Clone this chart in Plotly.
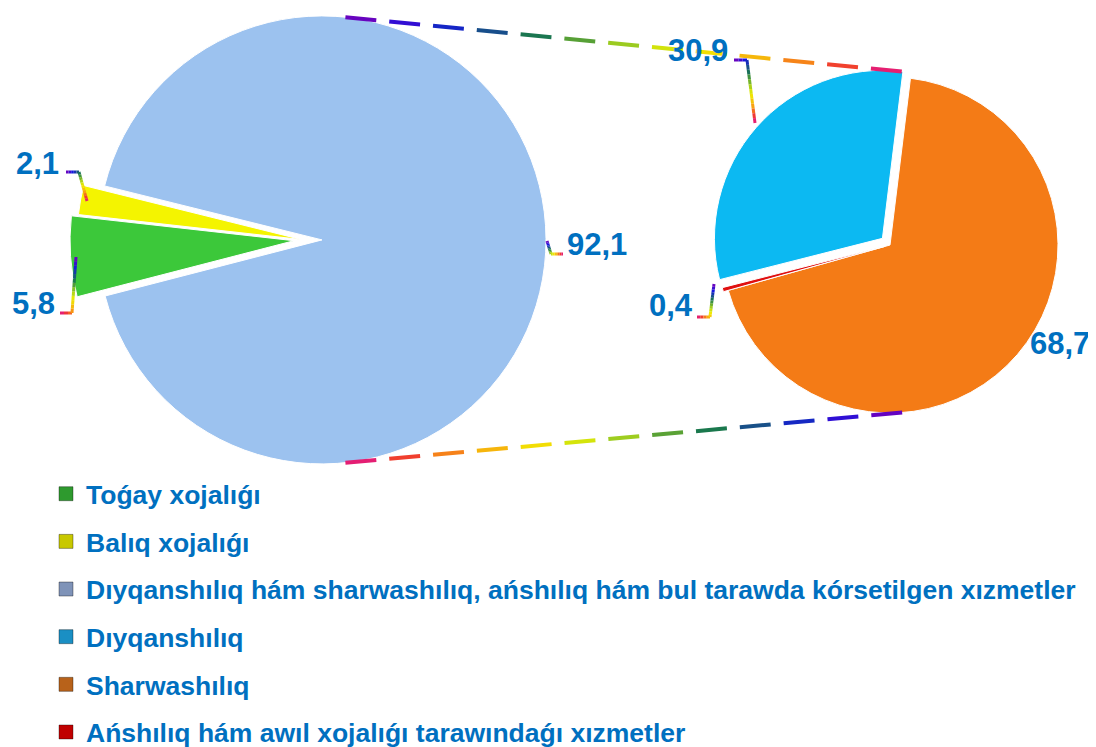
import math
import plotly.graph_objects as go

# page is 1096x747; the html body keeps an 8px margin, so the figure is 8px smaller
PAGE_W, PAGE_H, OFF = 1096, 747, 8
W, H = PAGE_W - OFF, PAGE_H - OFF

# ---------------- data ----------------
main_labels = ["Toǵay xojalıǵı", "Balıq xojalıǵı",
               "Dıyqanshılıq hám sharwashılıq, ańshılıq hám bul tarawda kórsetilgen xızmetler"]
main_values = [5.8, 2.1, 92.1]
main_colors = ["#3CC83A", "#F4F400", "#9CC2EF"]

sub_labels = ["Sharwashılıq", "Ańshılıq hám awıl xojalıǵı tarawındaǵı xızmetler", "Dıyqanshılıq"]
sub_values = [68.7, 0.4, 30.9]
sub_colors = ["#F47B16", "#E01010", "#0CB9F2"]

legend_labels = ["Toǵay xojalıǵı", "Balıq xojalıǵı",
                 "Dıyqanshılıq hám sharwashılıq, ańshılıq hám bul tarawda kórsetilgen xızmetler",
                 "Dıyqanshılıq", "Sharwashılıq",
                 "Ańshılıq hám awıl xojalıǵı tarawındaǵı xızmetler"]
legend_colors = ["#2E9A2E", "#C8C800", "#7F93B8", "#1A8FC4", "#B8621A", "#C00000"]

TEXT_BLUE = "#0070C0"
FONT = "Liberation Sans, Arial, sans-serif"

# ---------------- geometry (page pixels) ----------------
L_C, L_R = (304.0, 240.0), 224.0
L_OFFSET = [10.0, 3.0, 18.0]      # explosion distance of each slice (px)
L_ROT = 255.5                     # clockwise from 12 o'clock
R_C, R_R = (890.0, 245.0), 168.0
R_PULL = [0.0, 0.03, 0.06]
R_ROT = 7


def px2paper_x(px):
    return (px - OFF) / W


def px2paper_y(py):
    return 1 - (py - OFF) / H


def domain(c, half):
    return dict(x=[px2paper_x(c[0] - half), px2paper_x(c[0] + half)],
                y=[px2paper_y(c[1] + half), px2paper_y(c[1] - half)])


def pol(c, r, ang):
    return (c[0] + r * math.cos(math.radians(ang)), c[1] - r * math.sin(math.radians(ang)))


fig = go.Figure()

# main pie: one trace per exploded slice (others transparent), sharing one angle layout
tot = sum(main_values)
start = 90 - L_ROT
acc = 0.0
mids = []
for v in main_values:
    span = 360 * v / tot
    mids.append(start - acc - span / 2)   # clockwise
    acc += span

for k in [2, 0, 1]:
    cen = pol(L_C, L_OFFSET[k], mids[k])
    cols = [main_colors[i] if i == k else "rgba(0,0,0,0)" for i in range(len(main_values))]
    widths = [1 if i == k else 0 for i in range(len(main_values))]
    fig.add_trace(go.Pie(
        labels=main_labels, values=main_values, sort=False,
        direction="clockwise", rotation=L_ROT,
        marker=dict(colors=cols, line=dict(color="white", width=widths)),
        textinfo="none", hoverinfo="skip", showlegend=False,
        domain=domain(cen, L_R)))

fig.add_trace(go.Pie(
    labels=sub_labels, values=sub_values, sort=False,
    direction="clockwise", rotation=R_ROT, pull=R_PULL,
    marker=dict(colors=sub_colors, line=dict(color="white", width=1)),
    textinfo="none", hoverinfo="label+value", showlegend=False,
    domain=domain(R_C, R_R * (1 + max(R_PULL)))))

# legend entries
for lab, col in zip(legend_labels, legend_colors):
    fig.add_trace(go.Scatter(
        x=[None], y=[None], mode="markers", name=lab, legendgroup=lab,
        marker=dict(symbol="square", size=14, color=col,
                    line=dict(color="rgba(0,0,0,0.35)", width=1))))

# ---------------- rainbow helpers ----------------
RAINBOW = [(0.0, (122, 0, 184)), (0.15, (20, 20, 224)), (0.35, (26, 122, 74)),
           (0.5, (156, 204, 32)), (0.62, (240, 240, 0)), (0.78, (248, 160, 16)),
           (0.9, (240, 58, 48)), (1.0, (224, 20, 140))]


def rainbow(t):
    t = max(0.0, min(1.0, t))
    for (t0, c0), (t1, c1) in zip(RAINBOW[:-1], RAINBOW[1:]):
        if t <= t1:
            f = (t - t0) / (t1 - t0) if t1 > t0 else 0
            return "rgb(%d,%d,%d)" % tuple(round(a + (b - a) * f) for a, b in zip(c0, c1))
    return "rgb(%d,%d,%d)" % RAINBOW[-1][1]


shapes = []


def seg(x0, y0, x1, y1, color, width):
    shapes.append(dict(type="line", xref="x", yref="y", x0=x0, y0=y0, x1=x1, y1=y1,
                       line=dict(color=color, width=width), layer="above"))


def dashed_rainbow(p0, p1, reverse=False, dash=31, gap=13, width=4):
    L = math.hypot(p1[0] - p0[0], p1[1] - p0[1])
    ux, uy = (p1[0] - p0[0]) / L, (p1[1] - p0[1]) / L
    s = 0.0
    while s < L:
        e = min(s + dash, L)
        t = (s + e) / 2 / L
        seg(p0[0] + ux * s, p0[1] + uy * s, p0[0] + ux * e, p0[1] + uy * e,
            rainbow(1 - t if reverse else t), width)
        s += dash + gap


def rainbow_polyline(pts, reverse=False, width=3, n=16):
    segs = list(zip(pts[:-1], pts[1:]))
    lens = [math.hypot(b[0] - a[0], b[1] - a[1]) for a, b in segs]
    tot_l = sum(lens)
    acc_l = 0.0
    for (a, b), l in zip(segs, lens):
        k = max(1, round(n * l / tot_l))
        for i in range(k):
            f0, f1 = i / k, (i + 1) / k
            t = (acc_l + l * (f0 + f1) / 2) / tot_l
            seg(a[0] + (b[0] - a[0]) * f0, a[1] + (b[1] - a[1]) * f0,
                a[0] + (b[0] - a[0]) * f1, a[1] + (b[1] - a[1]) * f1,
                rainbow(1 - t if reverse else t), width)
        acc_l += l


# connector lines between the two pies
blue_c = pol(L_C, L_OFFSET[2], mids[2])
start_math = 90 - R_ROT
cyan_span = 360 * sub_values[2] / sum(sub_values)
cyan_apex = pol(R_C, R_PULL[2] * R_R, start_math + cyan_span / 2)
dashed_rainbow(pol(blue_c, L_R, 84), pol(cyan_apex, R_R, start_math))
dashed_rainbow(pol(blue_c, L_R, -84), pol(R_C, R_R, -85), reverse=True)

# leader lines
rainbow_polyline([(66, 172), (79, 172), (87, 201)])
rainbow_polyline([(60, 313), (72, 313), (76, 257)], reverse=True)
rainbow_polyline([(547, 241), (551, 254), (563, 254)])
rainbow_polyline([(734, 60), (747, 60), (755, 123)])
rainbow_polyline([(697, 317), (710, 317), (714, 284)], reverse=True)


def fmt(v):
    return ("%.1f" % v).replace(".", ",")


label_pos = [((33, 303), main_values[0]), ((37, 163), main_values[1]), ((597, 244), main_values[2]),
             ((698, 50), sub_values[2]), ((671, 305), sub_values[1]), ((1060, 343), sub_values[0])]
annotations = [dict(x=p[0], y=p[1], xref="x", yref="y", text="<b>%s</b>" % fmt(v),
                    showarrow=False, font=dict(family=FONT, size=31, color=TEXT_BLUE))
               for p, v in label_pos]

fig.update_layout(
    width=W, height=H, margin=dict(l=0, r=0, t=0, b=0, autoexpand=False),
    paper_bgcolor="white", plot_bgcolor="white",
    xaxis=dict(range=[OFF, PAGE_W], visible=False, fixedrange=True, domain=[0, 1]),
    yaxis=dict(range=[PAGE_H, OFF], visible=False, fixedrange=True, domain=[0, 1]),
    shapes=shapes, annotations=annotations,
    showlegend=True,
    legend=dict(x=px2paper_x(46), y=px2paper_y(470), xanchor="left", yanchor="top",
                traceorder="grouped", tracegroupgap=10.2, itemclick=False,
                font=dict(family=FONT, size=26.5, color=TEXT_BLUE, weight="bold"),
                bgcolor="rgba(0,0,0,0)"),
)

fig.write_html("out.html")
